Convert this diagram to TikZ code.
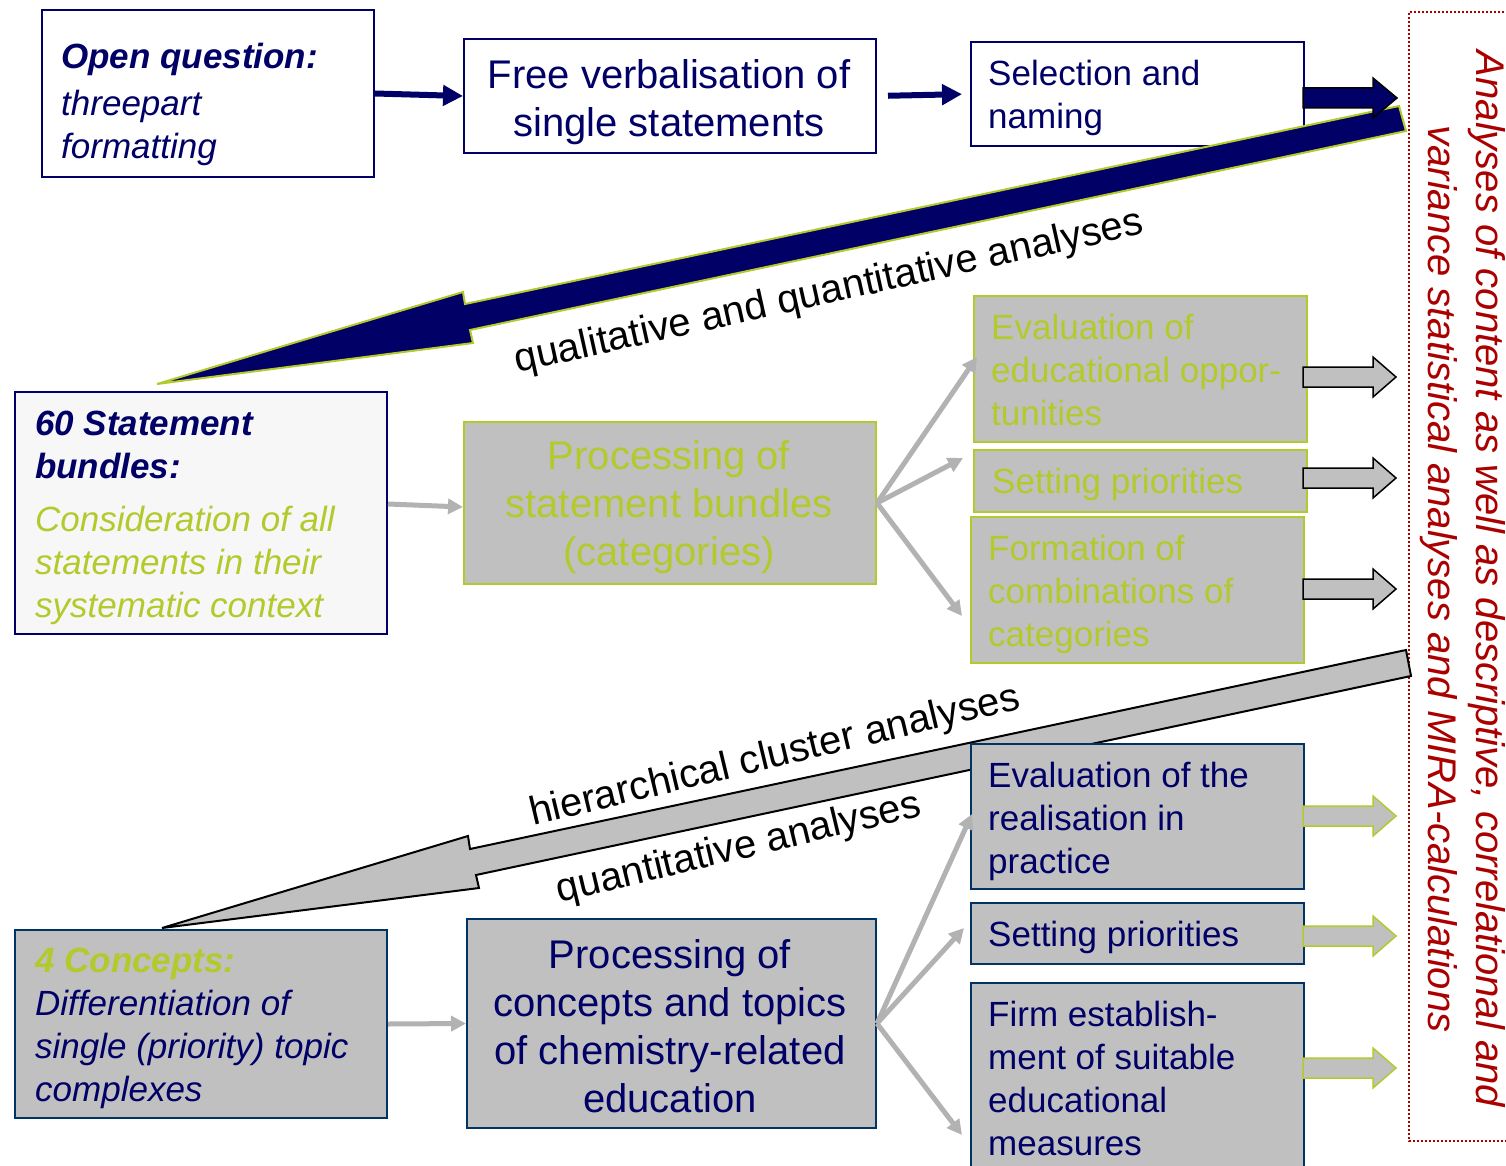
\documentclass[tikz,border=0pt]{standalone}
\usepackage{fontspec}
\setmainfont{Liberation Sans}
\usetikzlibrary{arrows.meta}
\definecolor{navy}{RGB}{0,0,102}
\definecolor{dblue}{RGB}{0,51,102}
\definecolor{lime}{RGB}{180,202,44}
\definecolor{boxgray}{RGB}{192,192,192}
\definecolor{conngray}{RGB}{178,178,178}
\definecolor{dred}{RGB}{170,0,0}
\definecolor{paper}{RGB}{247,247,247}
\begin{document}
\begin{tikzpicture}[x=1pt,y=-1pt,
  basebox/.style={anchor=north west, inner sep=0pt, line width=2pt},
  navybox/.style={basebox, draw=navy, fill=white},
  limebox/.style={basebox, draw=lime, fill=boxgray},
  bluebox/.style={basebox, draw=dblue, fill=boxgray},
  tsmall/.style={inner sep=0pt, align=left, anchor=north west, font=\fontsize{35}{43}\selectfont},
  tbig/.style={inner sep=0pt, align=center, anchor=north, font=\fontsize{40}{48}\selectfont},
  lab/.style={inner sep=0pt, font=\fontsize{40}{48}\selectfont, text=black},
  nconn/.style={draw=navy, line width=6pt, -{Triangle[length=20pt,width=20pt]}},
  gconn/.style={draw=conngray, line width=5pt, -{Triangle[length=15pt,width=15pt]}},
  bigarrow/.style={line width=2pt, line join=miter},
  blockarrow/.style={line width=1.5pt, line join=miter}
]
\useasboundingbox (0,0) rectangle (1506,1166);
\clip (0,0) rectangle (1506,1166);

% red dotted frame
\draw[dred, line width=2pt, dash pattern=on 2pt off 2pt] (1520,12) -- (1409,12) -- (1409,1141) -- (1520,1141);

% top row boxes
\node[navybox, minimum width=332pt, minimum height=167pt] (open) at (41,9) {};
\node[navybox, minimum width=412pt, minimum height=114pt] (free) at (463,38) {};
\node[navybox, minimum width=333pt, minimum height=104pt] (sel) at (970,41) {};

\draw[nconn] (open.east) -- (free.west);
\draw[nconn, shorten <=11pt, shorten >=8pt] (free.east) -- (sel.west);

% big navy arrow
\draw[bigarrow, draw=lime, fill=navy] (157,384) -- (463,292) -- (465,304) -- (1399,106) -- (1406,131) -- (470,330) -- (473,343) -- cycle;
% top block arrow
\draw[blockarrow, draw=black, fill=navy] (1303,88) -- (1373,88) -- (1373,78) -- (1397,98) -- (1373,118) -- (1373,108) -- (1303,108) -- cycle;

% middle boxes
\node[navybox, fill=paper, minimum width=372pt, minimum height=242pt] (stm) at (14,391) {};
\node[limebox, minimum width=412pt, minimum height=162pt] (procA) at (463,421) {};
\node[limebox, minimum width=333pt, minimum height=146pt] (evA) at (973,295) {};
\node[limebox, minimum width=333pt, minimum height=62pt] (setA) at (973,449) {};
\node[limebox, minimum width=333pt, minimum height=146pt] (formA) at (970,516) {};

\coordinate (a1) at (977,357);
\coordinate (a2) at (963,458);
\coordinate (a3) at (962,616);
\draw[gconn] ([yshift=9pt]stm.east) -- ([yshift=-4pt]procA.west);
\draw[gconn] (procA.east) -- (a1);
\draw[gconn] (procA.east) -- (a2);
\draw[gconn] (procA.east) -- (a3);

\foreach \c in {377,478,589}{
  \draw[blockarrow, draw=black, fill=boxgray] (1303,\c-10) -- (1373,\c-10) -- (1373,\c-20) -- (1396,\c) -- (1373,\c+20) -- (1373,\c+10) -- (1303,\c+10) -- cycle;
}

% big gray arrow
\draw[bigarrow, draw=black, fill=boxgray] (162,928) -- (468,836) -- (470,849) -- (1406,650) -- (1411,676) -- (476,875) -- (479,888) -- cycle;

% bottom boxes
\node[bluebox, minimum width=372pt, minimum height=188pt] (conc) at (14,929) {};
\node[bluebox, minimum width=409pt, minimum height=209pt] (procB) at (466,918) {};
\node[bluebox, minimum width=333pt, minimum height=145pt] (evB) at (970,743) {};
\node[bluebox, minimum width=333pt, minimum height=61pt] (setB) at (970,902) {};
\node[bluebox, minimum width=333pt, minimum height=215pt] (firm) at (970,982) {};

\coordinate (b1) at (972,814);
\coordinate (b2) at (964,928);
\coordinate (b3) at (962,1135);
\draw[gconn] (conc.east) -- (procB.west);
\draw[gconn] (procB.east) -- (b1);
\draw[gconn] (procB.east) -- (b2);
\draw[gconn] (procB.east) -- (b3);

\foreach \c in {816,936,1068}{
  \draw[blockarrow, draw=lime, fill=boxgray] (1303,\c-10) -- (1373,\c-10) -- (1373,\c-20) -- (1396,\c) -- (1373,\c+20) -- (1373,\c+10) -- (1303,\c+10) -- cycle;
}

% texts
\node[tsmall, text=navy] (openT) at (61,43) {{\bfseries\itshape Open question:}\\[4pt] {\itshape threepart}\\ {\itshape formatting}};
\node[tbig, text=navy] (freeT) at (669,59) {Free verbalisation of\\ single statements};
\node[tsmall, text=navy] (selT) at (988,60) {Selection and\\ naming};

\node[tsmall, text=navy] (stmT) at (35,411) {{\bfseries\itshape 60 Statement}\\ {\bfseries\itshape bundles:}\\[10pt] \textcolor{lime}{\itshape Consideration of all}\\ \textcolor{lime}{\itshape statements in their}\\ \textcolor{lime}{\itshape systematic context}};
\node[tbig, text=lime] (procAT) at (669,440) {Processing of\\ statement bundles\\ (categories)};
\node[tsmall, text=lime] (evAT) at (991,314) {Evaluation of\\ educational oppor-\\ tunities};
\node[tsmall, text=lime] (setAT) at (992,468) {Setting priorities};
\node[tsmall, text=lime] (formAT) at (988,535) {Formation of\\ combinations of\\ categories};

\node[tsmall, text=navy] (concT) at (35,948) {{\bfseries\itshape\textcolor{lime}{4 Concepts:}}\\ {\itshape Differentiation of}\\ {\itshape single (priority) topic}\\ {\itshape complexes}};
\node[tbig, text=navy] (procBT) at (670,939) {Processing of\\ concepts and topics\\ of chemistry-related\\ education};
\node[tsmall, text=navy] (evBT) at (988,762) {Evaluation of the\\ realisation in\\ practice};
\node[tsmall, text=navy] (setBT) at (988,921) {Setting priorities};
\node[tsmall, text=navy] (firmT) at (988,1001) {Firm establish-\\ ment of suitable\\ educational\\ measures};

% arrow labels
\node[lab, rotate=12.5] (l1) at (829,293) {qualitative and quantitative analyses};
\node[lab, rotate=13.5] (l2) at (775,757) {hierarchical cluster analyses};
\node[lab, rotate=13.5] (l3) at (739,849) {quantitative analyses};

% side text
\node[rotate=-90, align=center, inner sep=0pt, text=dred, font=\fontsize{40}{48}\selectfont\itshape] (side) at (1463,579) {Analyses of content as well as descriptive, correlational and\\ variance statistical analyses and MIRA-calculations};
\end{tikzpicture}
\end{document}
